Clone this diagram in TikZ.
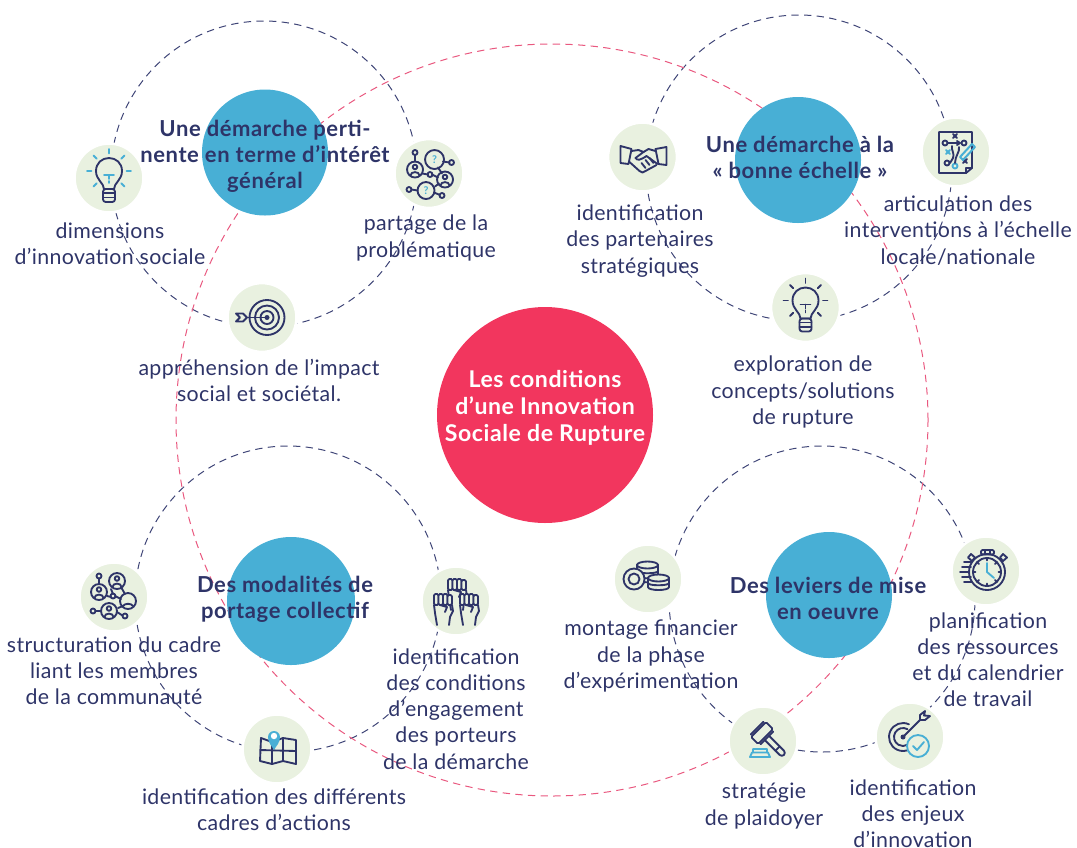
\documentclass[tikz,border=0pt]{standalone}
\usepackage{fontspec}
\usetikzlibrary{shapes.geometric}
\setmainfont[LetterSpace=1.7]{Lato}
\newfontfamily\tfont[LetterSpace=2.7]{Lato}
\newfontfamily\cfont[LetterSpace=2.4]{Lato}
\definecolor{navy}{HTML}{2E3468}
\definecolor{ringc}{HTML}{3F4577}
\definecolor{pinkc}{HTML}{E9587F}
\definecolor{redc}{HTML}{F2365E}
\definecolor{bluec}{HTML}{48AFD5}
\definecolor{iconbg}{HTML}{E9F1E0}
\tikzset{
 ring/.style={circle,draw=ringc,line width=0.75pt,dash pattern=on 5.5pt off 4pt,minimum size=#1*0.75pt,inner sep=0pt},
 hub/.style={circle,fill=bluec,minimum size=126*0.75pt,inner sep=0pt},
 iconbase/.style={circle,fill=iconbg,draw=white,line width=2pt,minimum size=69*0.75pt,inner sep=0pt},
 lab/.style={text=navy,align=center,inner sep=0pt,font=\fontsize{16}{19.6}\selectfont},
 title/.style={text=navy,align=center,inner sep=0pt,font=\tfont\fontsize{16.5}{19.6}\selectfont\bfseries},
 coretitle/.style={text=white,align=center,inner sep=0pt,font=\cfont\fontsize{17.3}{20.2}\selectfont\bfseries},
 ic/.style={draw=navy,line width=1.4pt,line join=round,line cap=round},
 ac/.style={draw=bluec,line width=1.4pt,line join=round,line cap=round},
 pics/bulb/.style={code={
  \draw[ic] (-5,11) .. controls (-5,5) and (-13,2) .. (-13,-7) .. controls (-13,-15) and (-7,-20) .. (0,-20) .. controls (7,-20) and (13,-15) .. (13,-7) .. controls (13,2) and (5,5) .. (5,11) -- cycle;
  \draw[ic,rounded corners=2pt] (-6,11) rectangle (6,24);
  \draw[ic] (-6,15)--(6,15) (-6,19.5)--(6,19.5);
  \draw[draw=#1,line width=1.4pt,line cap=round] (-5,-3)--(5,-3) (0,-3)--(0,1) (0,3)--(0,5);
  \foreach \a in {0,45,135,180,225,270,315}
   \draw[draw=#1,line width=1.4pt,line cap=round,shift={(0,-7)}] (\a:17.5)--(\a:22);
 }},
 pics/target/.style={code={
  \draw[ic] (5,0) circle (17.5) (5,0) circle (12) (5,0) circle (6.5);
  \fill[navy] (5,0) circle (2.5);
  \draw[ic] (-16,0)--(5,0);
  \draw[ic,fill=iconbg] (-26,-4)--(-19,-4)--(-15,0)--(-19,4)--(-26,4)--(-22,0)--cycle;
 }},
 pics/shake/.style={code={
  \draw[ic] (-22,-11)--(-11,-8)--(-14,7)--(-22,6)--cycle;
  \draw[ic] (24,-10)--(13,-8)--(16,7)--(24,8)--cycle;
  \draw[ic] (-11,-6)--(-4,-7)--(1,-5)--(-7,1) .. controls (-5,4) and (-2,3) .. (4,-1)--(15,7);
  \draw[ic] (13,-6)--(6,-8)--(1,-5);
  \draw[ic] (-13,5)--(-3,14) .. controls (-1,16) and (1,16) .. (3,14)--(14,8);
  \draw[ic] (-1,6)--(3,11) (3,3)--(7,8) (7,1)--(11,6);
 }},
 pics/persona/.style={code={
  \draw[ic] (0,0) circle (8);
  \draw[ic] (0,-2.5) circle (2.3);
  \draw[ic] (-4.5,6) .. controls (-4.5,1.5) and (4.5,1.5) .. (4.5,6);
 }},
 pics/netq/.style={code={
  \draw[ic] (-14,-18.5)--(-14,-12) (14,-12)--(20.5,-11) (-7,0)--(-1,1) (3,1)--(9,4) (9,-6)--(13,0) (-17.5,16)--(-11.5,17) (5,19)--(11,21.5) (6,13)--(10,10);
  \draw[ic] (-14,-21) circle (2.5) (22.5,-11) circle (2.5) (1,1) circle (2.5) (-20,16) circle (2.5) (13,22) circle (2.5);
  \draw[ic] (5.5,-14) circle (9.5) (-3,17) circle (8.5);
  \pic at (-14,-4) {persona};
  \pic at (16,6) {persona};
  \node[text=bluec,font=\fontsize{8}{8}\selectfont\bfseries,inner sep=0pt] at (5.5,-14) {?};
  \node[text=bluec,font=\fontsize{8}{8}\selectfont\bfseries,inner sep=0pt] at (-3,17) {?};
 }},
 pics/netp/.style={code={
  \draw[ic] (-15,-18.5)--(-15,-13) (-7,-1)--(-3,0) (1,-1)--(7,2) (-3,-8)--(-1,-3) (7,-10)--(11,-3) (-18.5,14)--(-13,14) (3,15)--(8.5,18.5) (4,11)--(9,9);
  \draw[ic] (-15,-21) circle (2.5) (-1,-1) circle (2.5) (-21,14) circle (2.5) (11,19) circle (2.5);
  \draw[ic] (14,4) circle (8);
  \draw[ic] (9,9) .. controls (11,6) and (17,6) .. (19,9);
  \pic at (3,-16) {persona};
  \pic at (-15,-5) {persona};
  \pic at (-5,14) {persona};
 }},
 pics/plan/.style={code={
  \draw[ic] (-17,-20)--(16,-20)--(16,16)--(10,21)--(-17,21)--cycle;
  \draw[ic] (10,21)--(10,16)--(16,16);
  \draw[ic] (-11,-9) circle (2.5) (8,-9) circle (2.5) (-9,11) circle (2.5);
  \draw[ac] (-1,14) circle (2.5);
  \draw[ic] (-8.5,-9)--(3,-9) (1,-11)--(4,-9)--(1,-7);
  \draw[ic] (-3,-18)--(1,-14) (1,-18)--(-3,-14) (7,7)--(11,11) (11,7)--(7,11);
  \draw[ic] (-6,11)--(-3,6) .. controls (-1,2) and (-5,-2) .. (-4,-6);
  \draw[ic] (-1,11) .. controls (-1,4) and (4,0) .. (3,-5);
  \draw[ac] (-10,-2)--(-6,2) (-6,-2)--(-10,2);
  \draw[ac,line width=1.5pt] (4,5)--(16,-8)--(19,-5)--(7,8)--cycle;
 }},
 pics/fist/.style={code={
  \draw[ic,fill=iconbg,rounded corners=1pt] (-9,-8) rectangle (-4.5,3);
  \draw[ic,fill=iconbg,rounded corners=1pt] (-4.5,-8) rectangle (0,3);
  \draw[ic,fill=iconbg,rounded corners=1pt] (0,-8) rectangle (4.5,3);
  \draw[ic,fill=iconbg,rounded corners=1pt] (4.5,-7) rectangle (9,3);
  \draw[ic] (-9,3)--(-8,11)--(-6,23) (9,3)--(10,9)--(7,15)--(6,23);
  \draw[ic] (-3,3)--(4,5)--(2,10);
 }},
 pics/mapicon/.style={code={
  \draw[ic] (-16,-11)--(-5,-7)--(6,-11)--(19,-9)--(19,15)--(6,12)--(-5,15)--(-17,12)--cycle;
  \draw[ic] (-5,-7)--(-5,15) (6,-11)--(6,12) (-17,1)--(19,2);
  \fill[bluec] (-9,-12) .. controls (-9,-6) and (-5,-3) .. (-3,1) .. controls (-1,-3) and (3,-6) .. (3,-12) arc (0:-180:6) -- cycle;
  \fill[white] (-3,-13) circle (3.2);
 }},
 pics/coins/.style={code={
  \draw[ic,fill=iconbg] (-11,-14) -- (-11,1) .. controls (-11,4) and (10,4) .. (10,1) -- (10,-14);
  \draw[ic,fill=iconbg] (-0.5,-14) ellipse (10.5 and 3.5);
  \draw[ic] (-11,-8) .. controls (-11,-5) and (10,-5) .. (10,-8) (-11,-3) .. controls (-11,0) and (10,0) .. (10,-3);
  \draw[ic,fill=iconbg] (0,-1) -- (0,8) .. controls (0,12) and (21,12) .. (21,8) -- (21,-1);
  \draw[ic,fill=iconbg] (10.5,-1) ellipse (10.5 and 3.5);
  \draw[ic] (0,4) .. controls (0,7) and (21,7) .. (21,4);
  \draw[ic,fill=iconbg] (-14,0) circle (10.5);
  \draw[ic] (-14,0) circle (5.5);
 }},
 pics/watch/.style={code={
  \draw[ic] (1,1) circle (18) (1,1) circle (14);
  \draw[ic,rounded corners=1pt] (-5,-21) rectangle (8,-16.5);
  \draw[ic] (-1,-21)--(-1,-16.5) (4,-21)--(4,-16.5);
  \draw[ic] (-15,-17)--(-11,-13.5)--(-14,-10)--(-18,-13.5)--cycle (17,-17)--(14,-13.5)--(17,-10)--(21,-13.5)--cycle;
  \draw[ic] (-26,1)--(-17,1) (-24,-4)--(-15,-4) (-22,-9)--(-14,-9) (-24,6)--(-15,6) (-22,11)--(-14,11);
  \draw[ac] (1,-8)--(1,1)--(8,7);
  \foreach \a in {0,45,...,315} \draw[ic,shift={(1,1)}] (\a:11.5)--(\a:13);
 }},
 pics/gavel/.style={code={
  \begin{scope}[shift={(-1,-8)},rotate=-45]
   \draw[ic,rounded corners=1pt] (-5,-10.5) rectangle (5,10.5);
   \draw[ic] (-7,-9)--(-7,9) (7,-9)--(7,9);
   \draw[ic] (7,-3)--(28,-3) arc (-90:90:3) --(7,3);
   \draw[ic] (22,-3)--(22,3);
  \end{scope}
  \draw[ac] (-10,8)--(4,8)--(4,11.5) (-10,8)--(-10,11.5);
  \draw[ac] (-13,16)--(7,16)--(5,11.5)--(-11,11.5)--cycle;
 }},
 pics/dart/.style={code={
  \begin{scope}[shift={(-7,0)}]
   \draw[ic] (295:14) arc (295:60:14);
   \draw[ic] (300:9) arc (300:60:9);
   \fill[navy] (0,0) circle (2.5);
  \end{scope}
  \draw[ic] (-7,0)--(10,-17);
  \draw[ic] (10,-17)--(10,-22)--(15,-26) (10,-17)--(15,-17)--(20,-21) (15,-26)--(14,-21.5)--(20,-21);
  \draw[ac,fill=iconbg] (8,9) circle (11);
  \draw[ac] (3,9)--(7,13)--(14,5);
 }}
}
\begin{document}
\begin{tikzpicture}[x=0.75pt,y=-0.75pt]
\useasboundingbox (0,0) rectangle (1077,847);
% rings
\node[ring=306] (ringA) at (264,174) {};
\node[ring=306] (ringB) at (799,168) {};
\node[ring=306] (ringC) at (288,599) {};
\node[ring=306] (ringD) at (822,599) {};
\node[draw=pinkc,line width=0.75pt,dash pattern=on 5.5pt off 4pt,circle,minimum size=752*0.75pt,inner sep=0pt] (outer) at (552,420) {};
% hubs
\node[hub] (hubA) at (265,152.5) {};
\node[hub] (hubB) at (798,160) {};
\node[hub,minimum size=128*0.75pt] (hubC) at (291,601) {};
\node[hub] (hubD) at (829,595) {};
\node[circle,fill=redc,minimum size=216*0.75pt,inner sep=0pt] (core) at (545,415) {};
% icon discs
\foreach \n/\x/\y in {i1/109/178,i2/429/173.5,i3/262/317.5,i4/642.5/157,i5/956/152,i6/805.5/307.5,i7/114/597,i8/456/601,i9/277/749,i10/648/579,i11/986/571,i12/763/741,i13/910/737}
  \node[iconbase] (\n) at (\x,\y) {};
% icons
\pic at (i1) {bulb=bluec};
\pic at (i2) {netq};
\pic at (i3) {target};
\pic at (i4) {shake};
\pic at (i5) {plan};
\pic at (i6) {bulb=navy};
\pic at (i7) {netp};
\begin{scope}[shift={(i8)}]
 \pic at (1,-14) {fist};
 \pic at (-13,1) {fist};
 \pic at (13,1) {fist};
\end{scope}
\pic at (i9) {mapicon};
\pic at (i10) {coins};
\pic at (i11) {watch};
\pic at (i12) {gavel};
\pic at (i13) {dart};
% titles
\node[title] (tA) at (265,156) {Une démarche perti-\\nente en terme d’intérêt\\général};
\node[title] (tB) at (800,157.5) {Une démarche à la\\« bonne échelle »};
\node[title] (tC) at (285,599) {Des modalités de\\portage collectif};
\node[title] (tD) at (828,598.5) {Des leviers de mise\\en oeuvre};
\node[coretitle] (tCore) at (545,408) {Les conditions\\d’une Innovation\\Sociale de Rupture};
% labels
\node[lab] (l1) at (110,244) {dimensions\\d’innovation sociale};
\node[lab] (l2) at (426,238) {partage de la\\problématique};
\node[lab] (l3) at (259,380.5) {appréhension de l’impact\\social et sociétal.};
\node[lab] (l4) at (640,241) {identification\\des partenaires\\stratégiques};
\node[lab] (l5) at (958,230.5) {articulation des\\interventions à l’échelle\\locale/nationale};
\node[lab] (l6) at (803,392) {exploration de\\concepts/solutions\\de rupture};
\node[lab] (l7) at (114,671) {structuration du cadre\\liant les membres\\de la communauté};
\node[lab] (l8) at (456,709) {identification\\des conditions\\d’engagement\\des porteurs\\de la démarche};
\node[lab] (l9) at (274,810) {identification des différents\\cadres d’actions};
\node[lab] (l10) at (651,656) {montage financier\\de la phase\\d’expérimentation};
\node[lab] (l11) at (988,660) {planification\\des ressources\\et du calendrier\\de travail};
\node[lab] (l12) at (764,806) {stratégie\\de plaidoyer};
\node[lab] (l13) at (913,814) {identification\\des enjeux\\d’innovation};
\end{tikzpicture}
\end{document}
